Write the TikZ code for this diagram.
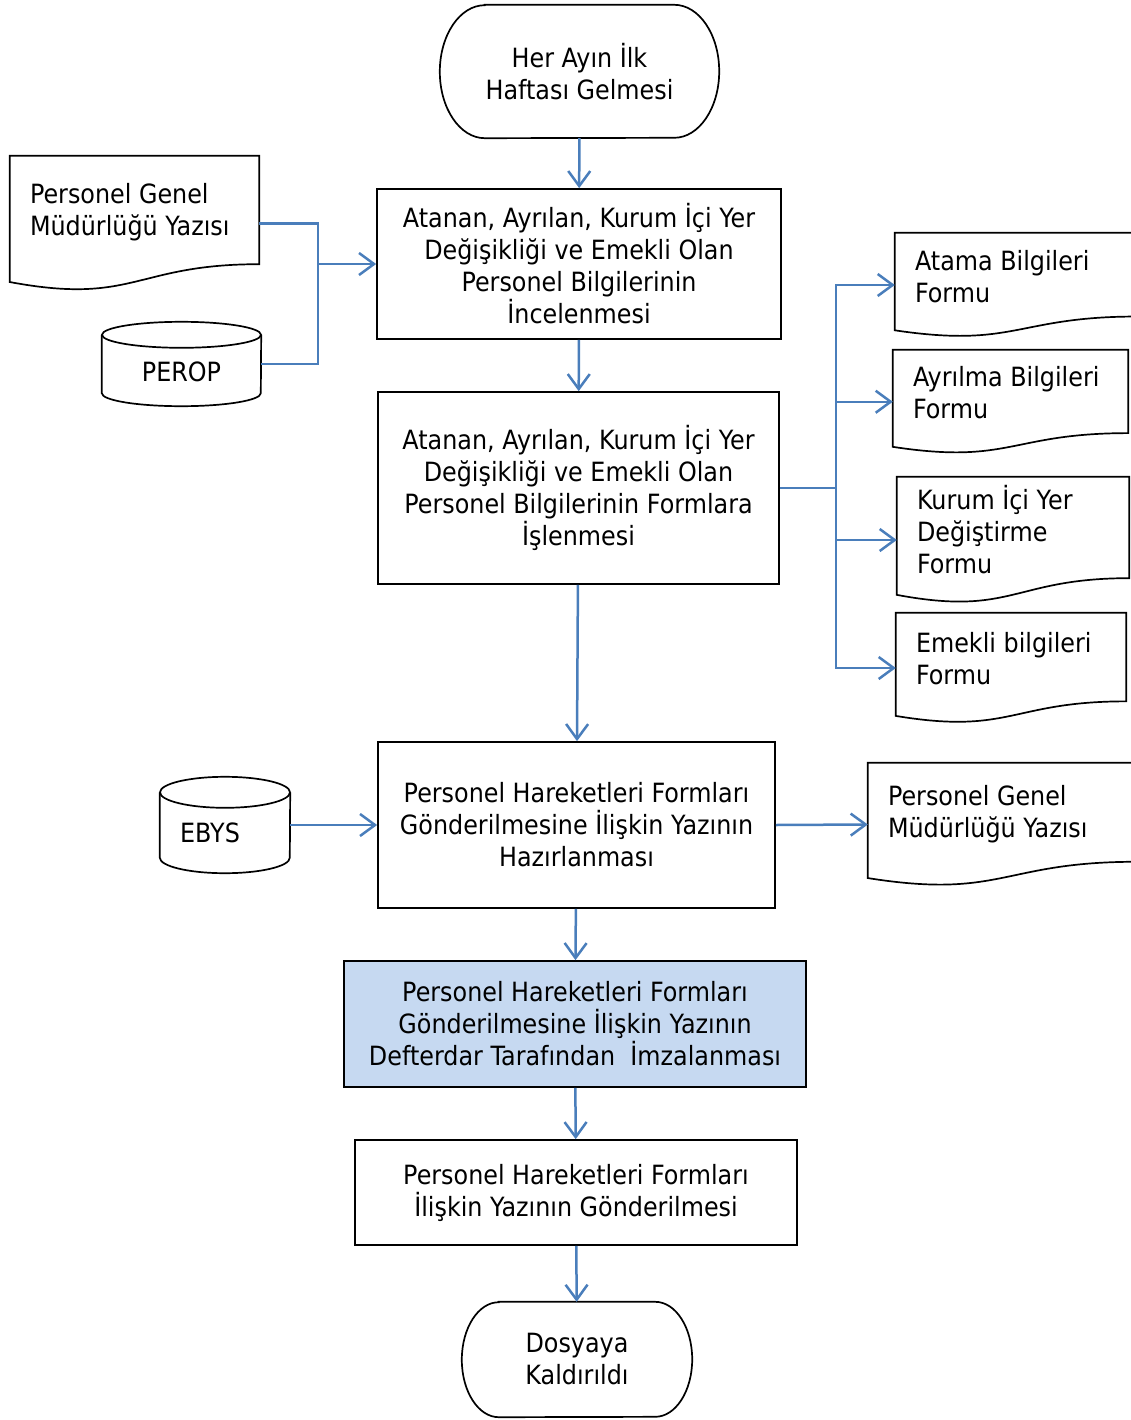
\documentclass[tikz,border=0pt]{standalone}
\usepackage{fontspec}
\setmainfont{DejaVu Sans}[FakeStretch=0.9]
\usepackage{xcolor}
\usetikzlibrary{arrows.meta, calc}

\definecolor{flowblue}{HTML}{4A7EBB}
\definecolor{signfill}{HTML}{C6D9F1}

\begin{document}
\begin{tikzpicture}[x=1pt, y=-1pt,
    every node/.style={font=\fontsize{26.5}{32}\selectfont},
    procbox/.style={draw, line width=1.7pt, align=center, inner sep=0pt},
    hidden/.style={inner sep=0pt, align=center},
    outline/.style={line width=1.7pt},
    doctext/.style={anchor=west, align=left, inner sep=0pt, xshift=20pt},
    flow/.style={draw=flowblue, line width=2.5pt, -{Straight Barb[length=15pt, width=22pt]}},
    link/.style={draw=flowblue, line width=2.5pt}]
        \clip (0,0) rectangle (1131,1420);

        % main column
        \node[hidden, minimum width=279pt, minimum height=133pt] (start) at (579.5,71.5) {Her Ayın İlk\\Haftası Gelmesi};
        \node[procbox, minimum width=404pt, minimum height=150pt] (box1) at (579,264) {Atanan, Ayrılan, Kurum İçi Yer\\Değişikliği ve Emekli Olan\\Personel Bilgilerinin\\İncelenmesi};
        \node[procbox, minimum width=401pt, minimum height=192pt] (box2) at (578.5,488) {Atanan, Ayrılan, Kurum İçi Yer\\Değişikliği ve Emekli Olan\\Personel Bilgilerinin Formlara\\İşlenmesi};
        \node[procbox, minimum width=397pt, minimum height=166pt] (box3) at (576.5,825) {Personel Hareketleri Formları\\Gönderilmesine İlişkin Yazının\\Hazırlanması};
        \node[procbox, fill=signfill, minimum width=462pt, minimum height=126pt] (box4) at (575,1024) {Personel Hareketleri Formları\\Gönderilmesine İlişkin Yazının\\Defterdar Tarafından\ \ İmzalanması};
        \node[procbox, minimum width=442pt, minimum height=105pt] (box5) at (576,1192.5) {Personel Hareketleri Formları\\İlişkin Yazının Gönderilmesi};
        \node[hidden, minimum width=230pt, minimum height=115pt] (finish) at (577,1359.5) {Dosyaya\\Kaldırıldı};

        \foreach \n/\rx/\ry in {start/45/66.5, finish/37/57.5}
            \draw[outline] ([xshift=\rx pt]\n.north west) -- ([xshift=-\rx pt]\n.north east)
                arc (90:-90:\rx pt and \ry pt) -- ([xshift=\rx pt]\n.south west)
                arc (270:90:\rx pt and \ry pt) -- cycle;

        % data stores
        \node[hidden, minimum width=159pt, minimum height=84pt] (perop) at (181.5,364) {};
        \node[hidden, minimum width=130pt, minimum height=96pt] (ebys) at (225,825) {};
        \node[hidden] (perop-t) at ([yshift=-8pt]perop.center) {PEROP};
        \node[hidden] (ebys-t) at ([xshift=-15pt, yshift=-8pt]ebys.center) {EBYS};

        \foreach \n/\rx/\ry in {perop/79.5/13, ebys/65/15.5} {
            \draw[outline] ([yshift=-\ry pt]\n.north west) -- ([yshift=\ry pt]\n.south west)
                arc (180:360:\rx pt and \ry pt) -- ([yshift=-\ry pt]\n.north east);
            \draw[outline] ([yshift=-\ry pt]\n.north) ellipse (\rx pt and \ry pt);
        }

        % documents
        \node[hidden, minimum width=249pt, minimum height=134.7pt] (pgma) at (134.5,223.4) {};
        \node[hidden, minimum width=242pt, minimum height=104pt] (atama) at (1016,285) {};
        \node[hidden, minimum width=235pt, minimum height=103.5pt] (ayrilma) at (1010.5,401.75) {};
        \node[hidden, minimum width=232pt, minimum height=126pt] (kurum) at (1013,540) {};
        \node[hidden, minimum width=230pt, minimum height=110pt] (emekli) at (1011,668) {};
        \node[hidden, minimum width=268pt, minimum height=123pt] (pgmb) at (1002,824.5) {};

        \foreach \n in {pgma, atama, ayrilma, kurum, emekli, pgmb}
            \draw[outline] (\n.north west) -- (\n.north east) -- ($(\n.north east)!0.802!(\n.south east)$)
                .. controls ($(\n.north)!0.802!(\n.south)$) and ($(\n.north)!1.107!(\n.south)$)
                .. ($(\n.north west)!0.934!(\n.south west)$) -- cycle;

        \node[doctext] (pgma-t) at ($(pgma.west)!0.17!(pgma.north west)$) {Personel Genel\\Müdürlüğü Yazısı};
        \node[doctext] (atama-t) at ($(atama.west)!0.17!(atama.north west)$) {Atama Bilgileri\\Formu};
        \node[doctext] (ayrilma-t) at ($(ayrilma.west)!0.17!(ayrilma.north west)$) {Ayrılma Bilgileri\\Formu};
        \node[doctext] (kurum-t) at ($(kurum.west)!0.17!(kurum.north west)$) {Kurum İçi Yer\\Değiştirme\\Formu};
        \node[doctext] (emekli-t) at ($(emekli.west)!0.17!(emekli.north west)$) {Emekli bilgileri\\Formu};
        \node[doctext] (pgmb-t) at ($(pgmb.west)!0.17!(pgmb.north west)$) {Personel Genel\\Müdürlüğü Yazısı};

        % connectors
        \coordinate (j1) at (318,264);
        \coordinate (j2) at (836,488);

        \path
            (start) edge[flow] (box1)
            (box1) edge[flow] (box2)
            (box2) edge[flow] (box3)
            (box3) edge[flow] (box4)
            (box4) edge[flow] (box5)
            (box5) edge[flow] (finish);

        \draw[link] (pgma.east) -| (j1) |- (perop.east);
        \draw[flow] (j1) -- (box1.west);
        \draw[link] (box2.east) -- (j2);
        \foreach \n in {atama, ayrilma, kurum, emekli}
            \draw[flow] (j2) |- (\n.west);
        \draw[flow] (ebys.east) -- (box3.west);
        \draw[flow] (box3.east) -- (pgmb.west);
    \end{tikzpicture}
\end{document}
